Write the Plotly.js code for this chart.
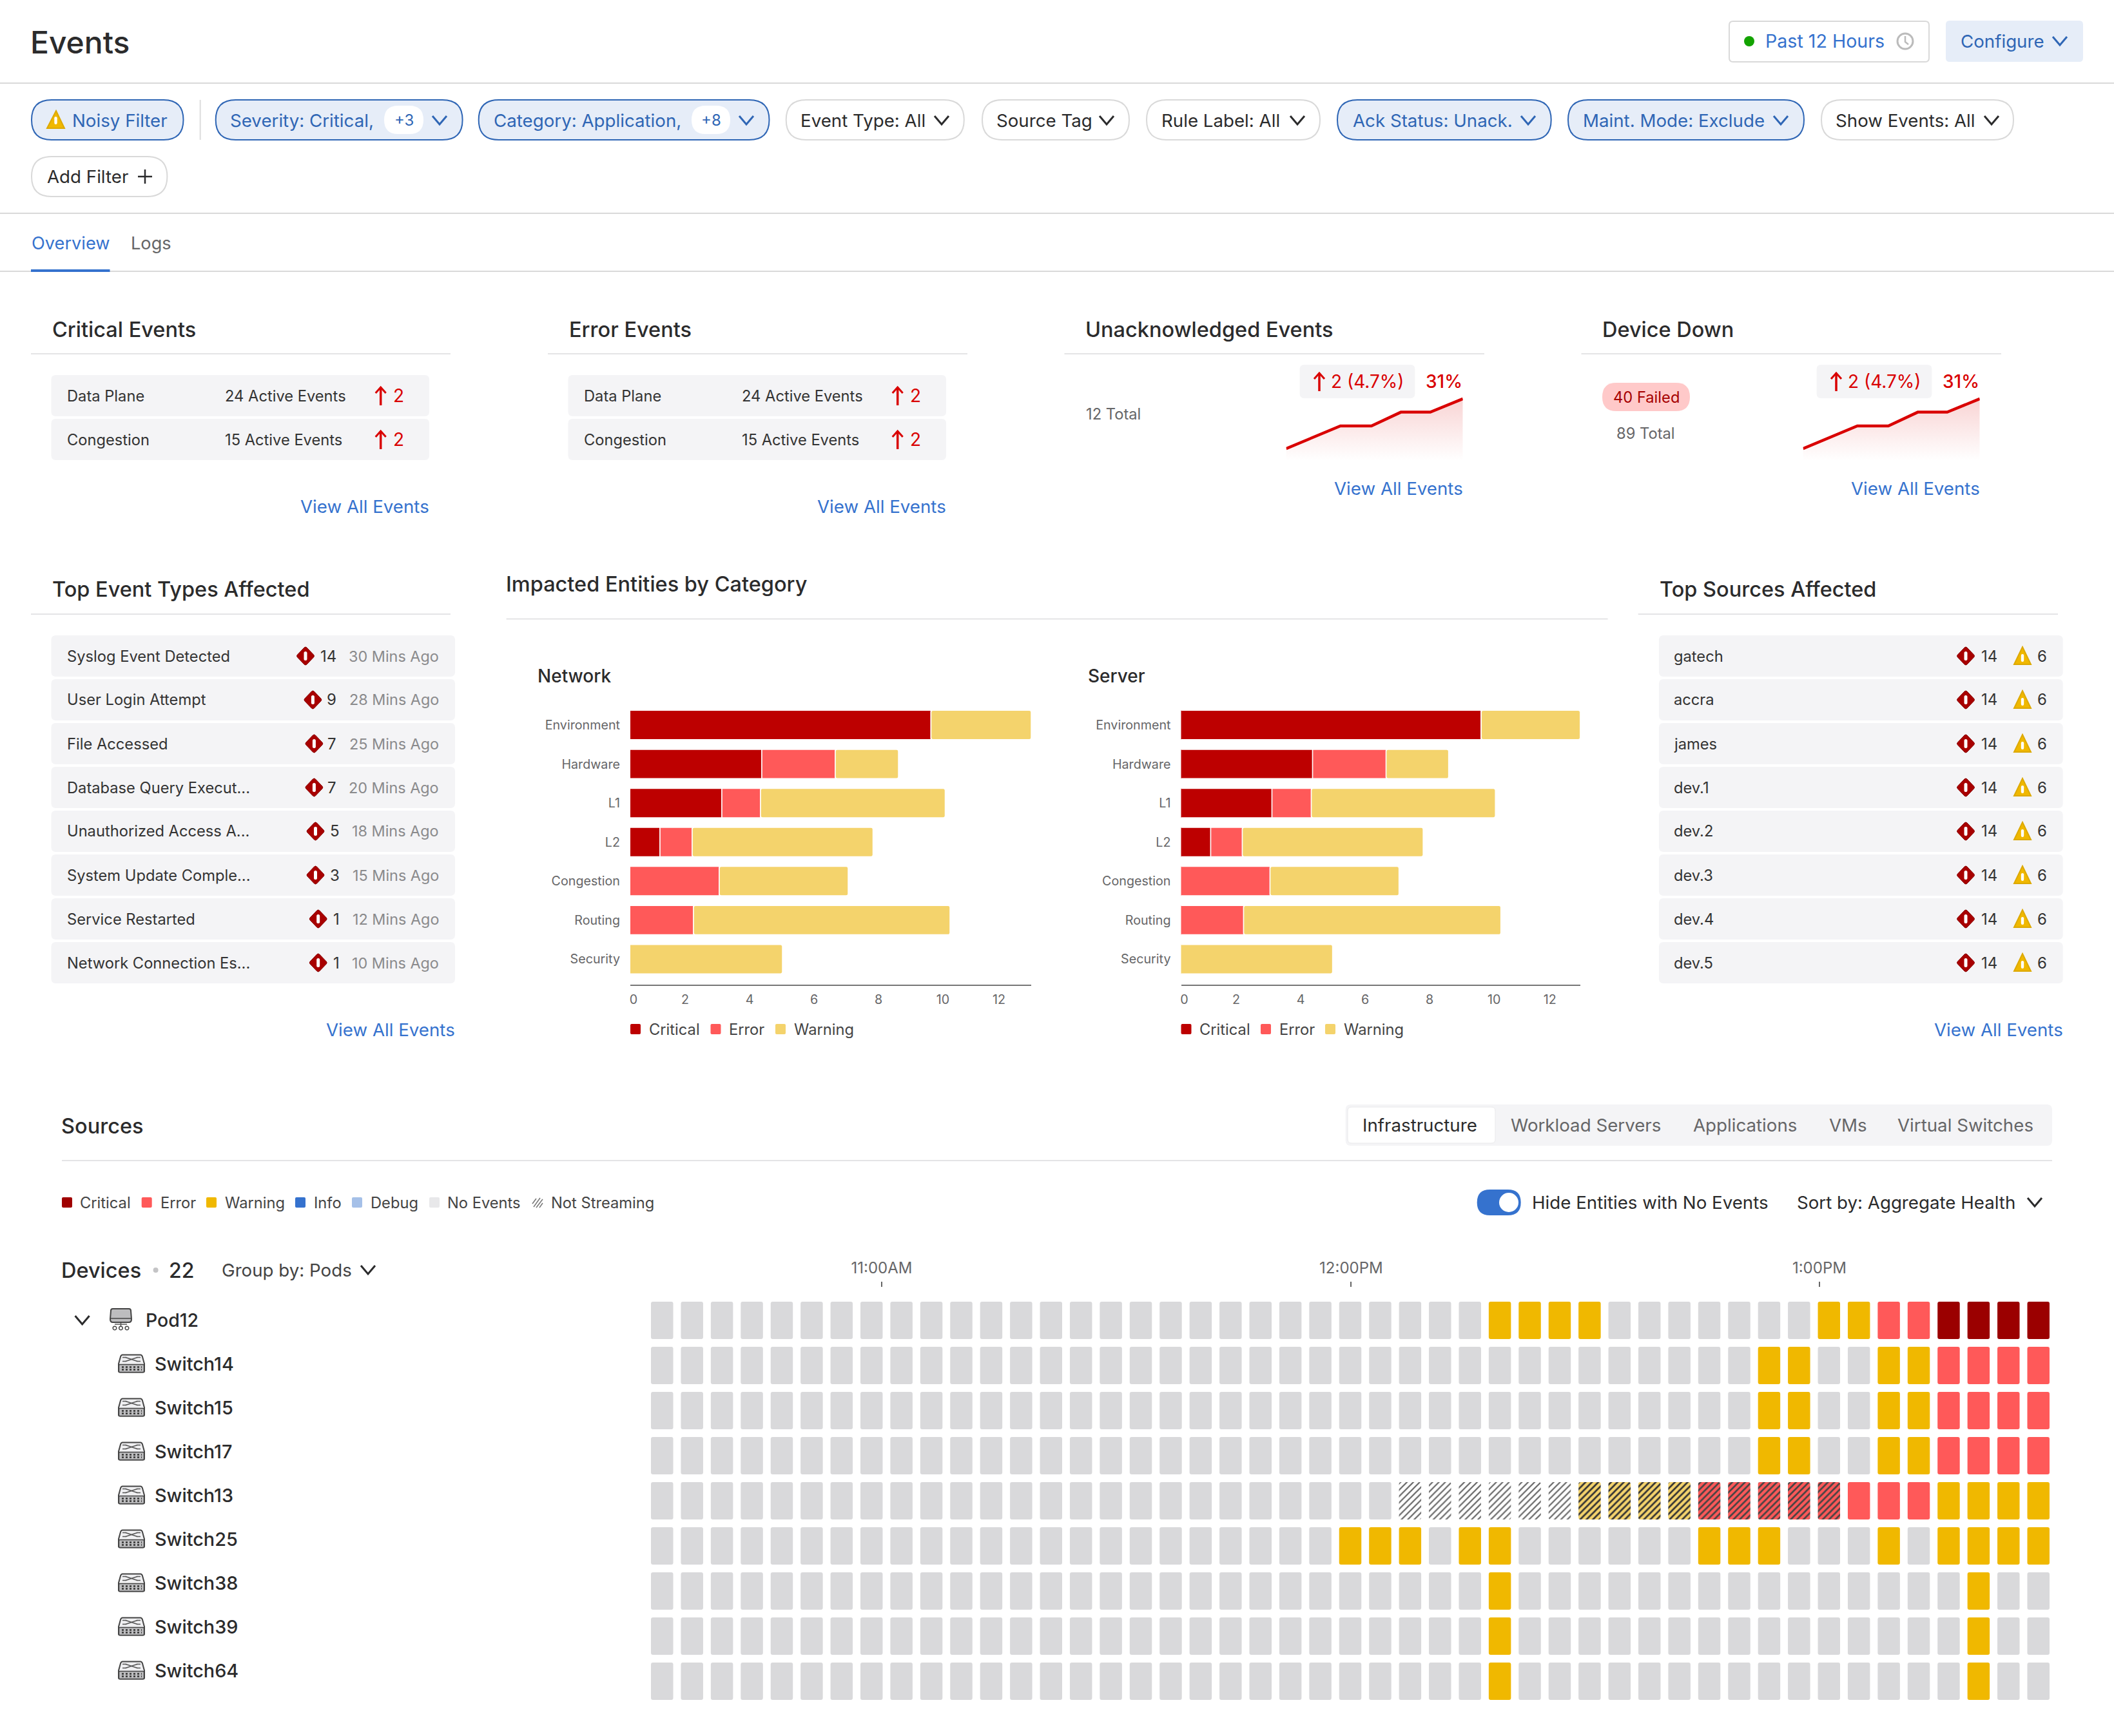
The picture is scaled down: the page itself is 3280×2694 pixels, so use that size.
<!DOCTYPE html>
<html><head><meta charset="utf-8">
<script src="https://cdn.plot.ly/plotly-3.0.1.min.js"></script>
<style>html,body{margin:0;padding:0;background:#fff}#chart{width:3280px;height:2694px}</style>
</head><body><div id="chart"></div>
<script>
// ---------- chart data ----------
const categories = ['Environment','Hardware','L1','L2','Congestion','Routing','Security'];
const networkCritical = [9.63,4.38,3.14,1.22,0,0,0];
const networkError    = [0,2.28,1.20,1.00,3.06,2.26,0];
const networkWarning  = [3.11,1.96,5.73,5.61,4.00,7.96,5.02];
const serverCritical  = [9.60,4.37,3.11,1.21,0,0,0];
const serverError     = [0,2.28,1.22,0.98,3.05,2.23,0];
const serverWarning   = [3.07,1.94,5.71,5.61,4.00,7.98,4.99];
const barTickLabels   = ['0','2','4','6','8','10','12'];
const sparkTime  = [0,1.75,2.75,3.7,4.65,5.7];
const sparkValue = [6.1,17.4,17.4,24.3,24.3,31];
const devices = ['Pod12','Switch14','Switch15','Switch17','Switch13','Switch25','Switch38','Switch39','Switch64'];
// 0 no events, 1 warning, 2 error, 3 critical, 4 not streaming, 5 not streaming + warning, 6 not streaming + error
const deviceStatus = [
 '00000000000000000000000000001111000000011223333',
 '00000000000000000000000000000000000001100112222',
 '00000000000000000000000000000000000001100112222',
 '00000000000000000000000000000000000001100112222',
 '00000000000000000000000004444445555666662221111',
 '00000000000000000000000111011000000111000101111',
 '00000000000000000000000000001000000000000000100',
 '00000000000000000000000000001000000000000000100',
 '00000000000000000000000000001000000000000000100'
];
const timeLabels = ['11:00AM','12:00PM','1:00PM'];
const eventTypes = ['Syslog Event Detected','User Login Attempt','File Accessed','Database Query Execut...','Unauthorized Access A...','System Update Comple...','Service Restarted','Network Connection Es...'];
const eventTypeCounts = ['14','9','7','7','5','3','1','1'];
const eventTypeTimes = ['30 Mins Ago','28 Mins Ago','25 Mins Ago','20 Mins Ago','18 Mins Ago','15 Mins Ago','12 Mins Ago','10 Mins Ago'];
const sources = ['gatech','accra','james','dev.1','dev.2','dev.3','dev.4','dev.5'];
const sourceCritical = ['14','14','14','14','14','14','14','14'];
const sourceWarning = ['6','6','6','6','6','6','6','6'];
const activeRows = ['Data Plane','Congestion'];
const activeEvents = ['24 Active Events','15 Active Events'];
const sourceTabs = ['Workload Servers','Applications','VMs','Virtual Switches'];
const heatLegend = ['Critical','Error','Warning','Info','Debug','No Events','Not Streaming'];

// ---------- page helpers ----------
const W=3280,H=2694, X=p=>p/W, Y=p=>1-p/H;
const FONT='Inter, "Noto Sans", sans-serif';
const BLUE='#3572CE',DBLUE='#2F66B5',INK='#2B2B2C',GREY='#666668',RED='#D90000',CARD='#F4F4F6',PALEBLUE='#E6EDF8',RULE='#E4E4E6',AMBER='#F0B800',CRIT='#A00000';
const shapes=[],notes=[];
function t(text,x,y,s,c,o={}){
  const a=o.a||'left', dx=a==='left'?-2:(a==='right'?2:0);
  notes.push({text,x:X(x+dx),y:Y(y),xref:'paper',yref:'paper',showarrow:false,xanchor:a,yanchor:'middle',borderpad:0,
  font:{family:FONT,size:s,color:c||INK,weight:o.w||400}});}
function path(segs,fill,stroke,sw){
  const d=segs.map(s=>{if(s[0]==='Z')return 'Z';let r=s[0];for(let i=1;i<s.length;i+=2){r+=(i>1?' ':'')+X(s[i]).toFixed(6)+','+Y(s[i+1]).toFixed(6);}return r;}).join(' ');
  shapes.push({type:'path',path:d,xref:'paper',yref:'paper',fillcolor:fill||'rgba(0,0,0,0)',line:{color:stroke||'rgba(0,0,0,0)',width:sw||0},layer:'below'});
}
function rr(x0,y0,x1,y1,r,fill,stroke,sw){
  path([['M',x0+r,y0],['L',x1-r,y0],['Q',x1,y0,x1,y0+r],['L',x1,y1-r],['Q',x1,y1,x1-r,y1],['L',x0+r,y1],['Q',x0,y1,x0,y1-r],['L',x0,y0+r],['Q',x0,y0,x0+r,y0],['Z']],fill,stroke,sw);
}
function line(x0,y0,x1,y1,c,w,dash){shapes.push({type:'line',xref:'paper',yref:'paper',x0:X(x0),y0:Y(y0),x1:X(x1),y1:Y(y1),line:{color:c,width:w,dash:dash||'solid'},layer:'below'});}
function circ(cx,cy,r,fill,stroke,sw){shapes.push({type:'circle',xref:'paper',yref:'paper',x0:X(cx-r),x1:X(cx+r),y0:Y(cy-r),y1:Y(cy+r),fillcolor:fill,line:{color:stroke||'rgba(0,0,0,0)',width:sw||0},layer:'below'});}
function chev(cx,cy,c){path([['M',cx-11,cy-6],['L',cx,cy+7],['L',cx+11,cy-6]],null,c,3);}
function arrow(x,y){line(x,y+15,x,y-13,RED,3.5);path([['M',x-8,y-4],['L',x,y-13],['L',x+8,y-4]],null,RED,3);}
function diamond(cx,cy){path([['M',cx-2,cy-13],['Q',cx,cy-15,cx+2,cy-13],['L',cx+12.5,cy-2],['Q',cx+14.5,cy,cx+12.5,cy+2],['L',cx+2,cy+13],['Q',cx,cy+15,cx-2,cy+13],['L',cx-12.5,cy+2],['Q',cx-14.5,cy,cx-12.5,cy-2],['Z']],'#A80000','#8A0000',1);rr(cx-2.5,cy-7,cx+2.5,cy+7,2.5,'#fff');}
function warnTri(cx,cy){path([['M',cx,cy-14],['L',cx+13,cy+13],['L',cx-13,cy+13],['Z']],AMBER,'#DDA900',2);rr(cx-2.2,cy-3,cx+2.2,cy+9,2.2,'#fff');}
function viewAll(xr,y){t('View All Events',xr,y,27.7,BLUE,{a:'right'});}
const BODY=23.7, UI=27.7;

// ---------- header & filters ----------
t('Events',48,65,48,INK,{w:500});
rr(2683,33,2993,96,6,'#fff','#D9D9D9',2);
circ(2714,64,8,'#13A300');
t('Past 12 Hours',2740,64,28.6,BLUE);
circ(2956,64,12,'#fff','#BBBBBB',3);
path([['M',2956,56],['L',2956,65],['L',2961,69]],null,'#BBBBBB',2.5);
rr(3019,32,3232,96,6,PALEBLUE);
t('Configure',3043,64,UI,DBLUE);
chev(3196,63,DBLUE);
line(0,129,W,129,'#D9D9D9',2);

const pills=[
 [49,284.5,'Noisy Filter',113,true,null,null,null],
 [334.7,717.6,'Severity: Critical,',358,true,'+3',[596,657],682],
 [742.7,1193.5,'Category: Application,',767,true,'+8',[1073,1133],1158],
 [1219.7,1495.8,'Event Type: All',1243,false,null,null,1461],
 [1524,1752,'Source Tag',1547,false,null,null,1717],
 [1779,2048,'Rule Label: All',1803,false,null,null,2013],
 [2075,2406.7,'Ack Status: Unack.',2100,true,null,null,2371],
 [2433,2799,'Maint. Mode: Exclude',2457,true,null,null,2763],
 [2826,3124,'Show Events: All',2849,false,null,null,3090]
];
pills.forEach(p=>{
  rr(p[0],155,p[1],217,31,p[4]?PALEBLUE:'#fff',p[4]?DBLUE:'#D9D9D9',2);
  t(p[2],p[3],186.5,UI,p[4]?DBLUE:INK);
  if(p[5]){rr(p[6][0],164,p[6][1],208,22,'#fff');t(p[5],(p[6][0]+p[6][1])/2,186,24,DBLUE,{a:'center'});}
  if(p[7])chev(p[7],186,p[4]?DBLUE:INK);
});
path([['M',87,172],['L',100,199],['L',73,199],['Z']],AMBER,'#DDA900',2);
rr(84.3,181,88.7,193,2.2,'#fff');
line(310.7,155,310.7,217,'#DDDDDD',2);
rr(49,243,259.4,305,31,'#fff','#D9D9D9',2);
t('Add Filter',74,274,UI,INK);
line(225,263,225,285,INK,2.5);line(214,274,236,274,INK,2.5);
line(0,331,W,331,'#D9D9D9',2);
t('Overview',50,377,27.2,BLUE);
t('Logs',204,377,27.2,GREY);
line(0,421,W,421,'#D9D9D9',2);
line(48,420,170.5,420,BLUE,4);

// ---------- first row of cards ----------
[[0,'Critical Events'],[802,'Error Events']].forEach(([dx,title])=>{
  t(title,81.6+dx,511,32.5,INK,{w:500});
  line(48+dx,549,699+dx,549,RULE,2);
  [582,650].forEach((top,i)=>{
    rr(79.5+dx,top,666+dx,top+64,7,CARD);
    t(activeRows[i],104.6+dx,top+32,BODY,'#333');
    t(activeEvents[i],350+dx,top+32,BODY,'#333');
    arrow(590.7+dx,top+32);
    t('2',611+dx,top+32,28,RED);
  });
  viewAll(665+dx,786);
});
const unackLabel='2 (4.7%)', unackPct='31%';
[[0,'Unacknowledged Events'],[802,'Device Down']].forEach(([dx,title])=>{
  t(title,1685+dx,511,32.5,INK,{w:500});
  line(1651.5+dx,549,2303+dx,549,RULE,2);
  rr(2016.6+dx,566,2195.4+dx,618,7,CARD);
  arrow(2047+dx,592);
  t(unackLabel,2066+dx,592,28,RED);
  t(unackPct,2268+dx,592,28,RED,{a:'right',w:500});
  viewAll(2269+dx,758);
});
t('12 Total',1686,642,BODY,GREY);
rr(2486,594,2622,638,22,'#FFC9C9');
t('40 Failed',2554,616,BODY,'#A60000',{a:'center'});
t('89 Total',2553,672,BODY,GREY,{a:'center'});

// ---------- second row ----------
t('Top Event Types Affected',81.6,915,32.5,INK,{w:500});
line(48,953,699,953,RULE,2);
const rowTops=[986,1054,1122,1190,1258,1326,1394,1462];
const numRight=[521,521,521,521,526,526,526,526], diaX=[474,485.4,487.4,487.4,489.5,489.5,493.7,493.7];
eventTypes.forEach((n,i)=>{
  const top=rowTops[i];
  rr(79.5,top,706,top+64,7,CARD);
  t(n,104.6,top+32,BODY,'#333');
  diamond(diaX[i],top+32);
  t(eventTypeCounts[i],numRight[i],top+32,24,'#333',{a:'right'});
  t(eventTypeTimes[i],680,top+32,23.4,'#8A8A8C',{a:'right'});
});
viewAll(705,1598);
t('Impacted Entities by Category',785.6,907,32.5,INK,{w:500});
line(785.6,960.6,2494.6,960.6,RULE,2);
t('Network',834.7,1049,28,INK,{w:500});
t('Server',1689,1049,28,INK,{w:500});
function miniLegend(sx,tx){
  ['Critical','Error','Warning'].forEach((n,i)=>{
    rr(sx[i],1589,sx[i]+16,1605,2,['#BD0000','#FF5959','#F4D36C'][i]);
    t(n,tx[i]+1.5,1597,23.7,'#444');
  });
}
miniLegend([978,1102.5,1203],[1006,1130,1231]);
miniLegend([1832.5,1956,2056],[1860,1984,2084.6]);
t('Top Sources Affected',2576,915,32.5,INK,{w:500});
line(2541.7,953,3193,953,RULE,2);
sources.forEach((n,i)=>{
  const top=rowTops[i];
  rr(2574,top,3200.7,top+64,7,CARD);
  t(n,2598,top+32,BODY,'#333');
  diamond(3050,top+32);
  t(sourceCritical[i],3075,top+32,24,'#333');
  warnTri(3138,top+32);
  t(sourceWarning[i],3168,top+32,24,'#333',{a:'center'});
});
viewAll(3199.6,1598);

// ---------- sources section ----------
t('Sources',96,1748,32.5,INK,{w:500});
line(96,1801,3184,1801,RULE,2);
rr(2087.7,1714,3184,1778,8,CARD);
rr(2091,1718,2320,1774,6,'#fff','#E9E9EB',1);
t('Infrastructure',2115,1746,UI,INK);
[2345,2627.5,2838.7,2945.4].forEach((x,i)=>t(sourceTabs[i],x,1746,UI,GREY));
const legSw=[96,219.7,320,458,546,666], legTx=[125,249.5,349.5,487.5,575.5,695,855.6];
['#A00000','#FF5959',AMBER,BLUE,'#A5C0E8','#E8E8EA'].forEach((c,i)=>rr(legSw[i],1858,legSw[i]+16,1874,2,c));
[[826,1868,832,1860],[828,1873,838,1859],[832,1874,842,1861],[837,1874,842,1867]].forEach(s=>line(s[0],s[1],s[2],s[3],'#777',1.5));
heatLegend.forEach((n,i)=>t(n,legTx[i],1866,23.7,'#444'));
rr(2291.7,1846,2359.7,1886,20,BLUE);
circ(2341,1866,15,'#fff');
t('Hide Entities with No Events',2377.5,1866,UI,INK);
t('Sort by: Aggregate Health',2788.5,1866,UI,INK);
chev(3157,1865,INK);
t('Devices',96,1971,32.5,INK,{w:500});
circ(241.6,1971,4,'#C4C4C6');
t('22',262.5,1971,32,INK,{w:500});
t('Group by: Pods',345,1971,UI,'#444');
chev(571,1970,INK);

// device tree
chev(127.6,2048,INK);
path([['M',175,2031],['L',200,2031],['Q',203,2031,203,2034],['L',204,2047],['Q',204,2052,200,2052],['L',175,2052],['Q',171,2052,171,2047],['L',172,2034],['Q',172,2031,175,2031],['Z']],'#BDBDBF','#444',2);
line(171,2046,204,2046,'#444',1.5);
line(187.5,2053,187.5,2058,'#555',1.5);line(178,2055,197,2055,'#555',1.5);
[178,187.5,197].forEach(x=>circ(x,2061,2.8,'#fff','#444',1.5));
t(devices[0],227,2048.5,28.4,INK,{w:500});
devices.slice(1).forEach((n,i)=>{
  const cy=2116.5+68*i;
  path([['M',190,cy-14],['L',218,cy-14],['Q',220,cy-14,221,cy-11],['L',224,cy],['L',224,cy+11],['Q',224,cy+13,222,cy+13],['L',186,cy+13],['Q',184,cy+13,184,cy+11],['L',184,cy],['L',187,cy-11],['Q',188,cy-14,190,cy-14],['Z']],'#F0F0F2','#444',2);
  rr(184.5,cy+1,223.5,cy+13,1.5,'#BDBDBF','#444',1.5);
  line(195,cy-10,213,cy-4,'#555',1.5);line(195,cy-4,213,cy-10,'#555',1.5);
  line(190,cy-10,196,cy-10,'#555',1.5);line(190,cy-4,196,cy-4,'#555',1.5);line(212,cy-10,218,cy-10,'#555',1.5);line(212,cy-4,218,cy-4,'#555',1.5);
  line(189,cy+5,220,cy+5,'#333',2.5,'dot');line(189,cy+9,220,cy+9,'#333',2.5,'dot');
  t(n,241,cy,28.8,INK,{w:500});
});

// ---------- traces (all marks come from the arrays above) ----------
const traces=[];
function stacked(xa,ya,crit,err,warn){
  const b1=crit, b2=crit.map((v,i)=>v+err[i]);
  [[crit,null,'#BD0000',0,'Critical'],[err,b1,'#FF5959',0,'Error'],[warn,b2,'#F4D36C',3,'Warning']].forEach(([v,b,c,r,name])=>{
    traces.push({type:'bar',orientation:'h',name,x:v,y:categories,base:b||categories.map(()=>0),width:0.75,xaxis:xa,yaxis:ya,showlegend:false,
      marker:{color:c,cornerradius:r,line:{color:'#fff',width:1.5}}});
  });
}
stacked('x','y',networkCritical,networkError,networkWarning);
stacked('x2','y2',serverCritical,serverError,serverWarning);
[['x4','y4'],['x5','y5']].forEach(([xa,ya])=>traces.push({type:'scatter',mode:'lines',x:sparkTime,y:sparkValue,xaxis:xa,yaxis:ya,showlegend:false,
  line:{color:RED,width:4.5},fill:'tozeroy',
  fillgradient:{type:'vertical',colorscale:[[0,'rgba(217,0,0,0)'],[1,'rgba(217,0,0,0.17)']]}}));
const statusStyle={
 '0':{color:'#D9D9DB'},'1':{color:AMBER},'2':{color:'#FF5959'},'3':{color:'#9B0000'},
 '4':{color:'#fff',pattern:{shape:'/',size:7,solidity:0.32,fgcolor:'#666',bgcolor:'#fff',fgopacity:1}},
 '5':{color:'#F4D36C',pattern:{shape:'/',size:7,solidity:0.38,fgcolor:'#333',bgcolor:'#F4D36C',fgopacity:1}},
 '6':{color:'#FF5959',pattern:{shape:'/',size:7,solidity:0.38,fgcolor:'#444',bgcolor:'#FF5959',fgopacity:1}}
};
Object.keys(statusStyle).forEach(code=>{
  const xs=[],bases=[];
  deviceStatus.forEach((row,r)=>{for(let k=0;k<row.length;k++){if(row[k]===code){xs.push(k);bases.push(r-0.4143);}}});
  traces.push({type:'bar',x:xs,y:xs.map(()=>0.8286),base:bases,width:0.743,xaxis:'x3',yaxis:'y3',showlegend:false,
    marker:Object.assign({cornerradius:3,line:{width:0}},statusStyle[code])});
});

// ---------- axes ----------
const dom=(a,b,S)=>[a/S,b/S];
const yd=(top,bot)=>[1-bot/H,1-top/H];
const tickFont={family:FONT,size:19.7,color:GREY};
function barX(domain,range,vals){return {domain,range,anchor:'',tickmode:'array',tickvals:vals,ticktext:barTickLabels,tickfont:tickFont,showgrid:false,zeroline:false,showline:true,linecolor:'#777',linewidth:2.5,ticks:'',ticklabelstandoff:4};}
function barY(){return {domain:yd(1094.8,1527.8),type:'category',categoryorder:'array',categoryarray:categories,range:[6.65,-0.5],tickfont:tickFont,showgrid:false,zeroline:false,showline:false,ticks:'',ticklabelstandoff:15};}
const hidden=(domain,range)=>({domain,range,visible:false,showgrid:false,zeroline:false});
const layout={
  width:W,height:H,margin:{l:0,r:0,t:0,b:0,pad:0},paper_bgcolor:'#fff',plot_bgcolor:'rgba(0,0,0,0)',
  barmode:'overlay',showlegend:false,font:{family:FONT},shapes,annotations:notes,
  xaxis:Object.assign(barX(dom(978,1600,W),[0.3,12.74],[0.4,2,4,6,8,10,11.74]),{anchor:'y'}),
  yaxis:Object.assign(barY(),{anchor:'x'}),
  xaxis2:Object.assign(barX(dom(1832.5,2451.7,W),[0.29,12.67],[0.39,2,4,6,8,10,11.73]),{anchor:'y2'}),
  yaxis2:Object.assign(barY(),{anchor:'x2'}),
  xaxis3:{domain:dom(1010,3180,W),range:[-0.372,46.372],anchor:'y3',side:'top',tickmode:'array',tickvals:[7.34,23.03,38.68],ticktext:timeLabels,
    tickfont:{family:FONT,size:24,color:GREY},ticks:'outside',ticklen:8,tickwidth:2,tickcolor:'#666',showgrid:false,zeroline:false,showline:false,ticklabelstandoff:3},
  yaxis3:Object.assign(hidden(yd(1998,2640),[8.443,-0.7286]),{anchor:'x3'}),
  xaxis4:Object.assign(hidden(dom(1995.6,2269.7,W),[0,5.7]),{anchor:'y4'}),
  yaxis4:Object.assign(hidden(yd(612,715),[0,33.2]),{anchor:'x4'}),
  xaxis5:Object.assign(hidden(dom(2797.6,3071.7,W),[0,5.7]),{anchor:'y5'}),
  yaxis5:Object.assign(hidden(yd(612,715),[0,33.2]),{anchor:'x5'})
};
Plotly.newPlot('chart',traces,layout,{staticPlot:true,displayModeBar:false});
</script></body></html>
